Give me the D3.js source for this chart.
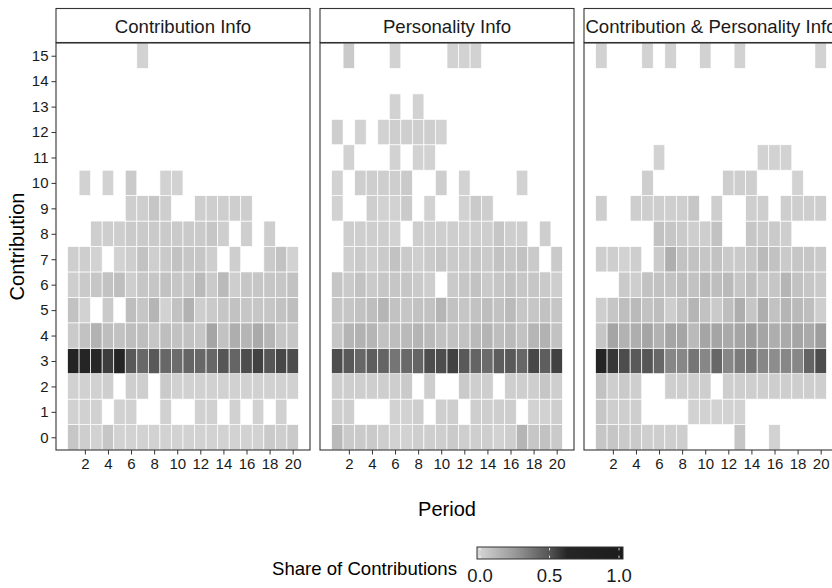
<!DOCTYPE html>
<meta charset="utf-8">
<style>
  body { margin: 0; background: #fff; }
  text { font-family: "Liberation Sans", Arial, Helvetica, sans-serif; }
</style>
<svg width="832" height="588"></svg>
<script src="https://cdn.jsdelivr.net/npm/d3@7"></script>
<script>

  // periods 1..20, contributions 0..15
  var periods = d3.range(1, 21);
  var contributions = d3.range(0, 16);
  var xTicks = [2, 4, 6, 8, 10, 12, 14, 16, 18, 20];
  var legendTicks = [0, 0.5, 1];
  var panelTitles = ["Contribution Info", "Personality Info", "Contribution & Personality Info"];

  // share of contributions, one row per contribution level (0 = no tile)
  var shareContribution = [
    [.075,.042,.025,.075,.025,.025,.025,.025,.025,.025,.025,.025,.025,.025,.025,.025,.025,.058,.042,.058],
    [.03,.03,.03,0,.03,.03,0,0,.03,0,0,.03,.03,0,.03,0,.03,0,.03,0],
    [.03,.03,.03,.04,0,.04,.04,0,.058,.03,.03,.03,.03,.03,.03,.03,.03,.03,.03,.03],
    [.66,.64,.615,.555,.62,.48,.425,.48,.43,.41,.435,.425,.43,.49,.435,.515,.545,.49,.53,.515],
    [.058,.092,.158,.108,.092,.108,.108,.075,.108,.092,.092,.075,.21,.092,.175,.142,.19,.142,.075,.075],
    [.092,.025,0,.058,0,.108,.075,.142,.025,.092,.158,.042,.058,.075,.092,.075,.075,.075,.092,.108],
    [.042,.058,.075,.092,.108,.042,.075,.075,.092,.075,.075,.125,.058,.125,.042,.075,.075,.075,.075,.092],
    [.042,.042,.025,0,.025,.042,.092,.042,.058,.092,.075,.075,.042,0,.042,0,0,.058,.092,.025],
    [0,0,.042,.042,.042,.058,.058,.058,.058,.058,.058,.058,.075,.042,0,.042,0,.042,0,0],
    [0,0,0,0,0,.042,.042,.075,.042,0,0,.042,.042,.042,.042,.042,0,0,0,0],
    [0,.025,0,.025,0,.058,0,0,.025,.025,0,0,0,0,0,0,0,0,0,0],
    [0,0,0,0,0,0,0,0,0,0,0,0,0,0,0,0,0,0,0,0],
    [0,0,0,0,0,0,0,0,0,0,0,0,0,0,0,0,0,0,0,0],
    [0,0,0,0,0,0,0,0,0,0,0,0,0,0,0,0,0,0,0,0],
    [0,0,0,0,0,0,0,0,0,0,0,0,0,0,0,0,0,0,0,0],
    [0,0,0,0,0,0,.025,0,0,0,0,0,0,0,0,0,0,0,0,0]
  ];

  var sharePersonality = [
    [.125,.058,.058,.058,.042,.025,.025,.042,.042,.042,.058,.042,.042,.042,.025,.042,.142,.075,.092,.058],
    [.042,.042,0,0,0,.025,.025,.042,0,.042,.042,0,.042,.042,.042,.042,0,.025,.025,.042],
    [.042,.042,.042,.042,.042,.042,.058,0,.042,0,0,.058,.042,.042,0,.042,.042,.042,.075,.042],
    [.515,.48,.43,.46,.44,.38,.42,.435,.515,.515,.545,.48,.44,.415,.465,.48,.43,.53,.46,.545],
    [.075,.142,.158,.142,.092,.108,.125,.142,.125,.092,.092,.092,.125,.142,.108,.125,.092,.142,.158,.092],
    [.075,.075,.092,.108,.142,.092,.075,.092,.092,.142,.092,.075,.092,.108,.092,.125,.075,.075,.092,.075],
    [.075,.058,.092,.058,.075,.075,.075,.058,.042,0,.058,.075,.092,.058,.075,.092,.075,.075,.058,.042],
    [0,.042,.058,.042,.058,.092,.058,.042,.058,.075,.058,.058,.075,.058,.092,.075,.092,.058,0,.058],
    [0,.042,.042,.042,.042,.025,0,.042,.042,.042,.042,.042,.042,.042,.075,.042,.042,0,.042,0],
    [.025,0,0,.042,.025,.025,.058,0,.025,0,0,.025,.058,.042,0,0,0,0,0,0],
    [.025,0,.042,.042,.042,.042,.058,0,0,.042,0,.025,0,0,0,0,.025,0,0,0],
    [0,.025,0,0,0,.025,0,.025,.025,0,0,0,0,0,0,0,0,0,0,0],
    [.042,0,.025,0,.025,.042,.042,.042,.042,.025,0,0,0,0,0,0,0,0,0,0],
    [0,0,0,0,0,.025,0,.025,0,0,0,0,0,0,0,0,0,0,0,0],
    [0,0,0,0,0,0,0,0,0,0,0,0,0,0,0,0,0,0,0,0],
    [0,.058,0,0,0,.025,0,0,0,0,.025,.025,.025,0,0,0,0,0,0,0]
  ];

  var shareBoth = [
    [.075,.075,.058,.058,.042,.042,.042,.042,0,0,0,0,.075,0,0,.025,0,0,0,0],
    [.075,.042,.042,.042,0,0,0,0,.025,.025,.025,.025,.025,0,0,0,0,0,0,0],
    [.092,.042,.058,.042,0,0,.042,.042,.042,.042,0,.042,.042,.042,.042,.042,.042,.042,.042,.042],
    [.66,.57,.515,.48,.49,.43,.32,.32,.38,.32,.43,.32,.36,.38,.32,.30,.32,.32,.44,.515],
    [.075,.21,.158,.175,.21,.158,.21,.21,.125,.21,.21,.19,.21,.24,.21,.175,.19,.21,.19,.24],
    [.042,.075,.108,.125,.092,.108,.042,.092,.142,.092,.058,.108,.175,.075,.175,.092,.142,.125,.108,.042],
    [0,0,.058,.042,.092,.092,.092,.108,.092,.125,.108,.125,.075,.108,.075,.075,.142,.092,.075,.058],
    [.042,.042,.025,.042,0,.058,.175,.092,.092,.075,.092,.058,.058,.075,.125,.092,.058,.075,.075,.058],
    [0,0,0,0,0,.092,.075,.058,.042,.042,.092,0,0,.075,.058,.058,.042,0,0,0],
    [.042,0,0,.042,.042,.042,.042,.042,.075,0,.042,0,0,.042,.042,0,.042,.042,.042,.042],
    [0,0,0,0,.042,0,0,0,0,0,0,.042,.042,.042,0,0,0,.025,0,0],
    [0,0,0,0,0,.025,0,0,0,0,0,0,0,0,.025,.025,.025,0,0,0],
    [0,0,0,0,0,0,0,0,0,0,0,0,0,0,0,0,0,0,0,0],
    [0,0,0,0,0,0,0,0,0,0,0,0,0,0,0,0,0,0,0,0],
    [0,0,0,0,0,0,0,0,0,0,0,0,0,0,0,0,0,0,0,0],
    [.025,0,0,0,.025,0,.025,0,0,.025,0,0,.025,0,0,0,0,0,0,.025]
  ];

  var panelData = [shareContribution, sharePersonality, shareBoth];

  var svg = d3.select("svg");
  var panelW = 254, panelTop = 43, panelBottom = 450;
  var panelLeft = [56, 320, 584];

  var x = d3.scaleLinear().domain([-0.5, 21.5]).range([0, panelW]);
  var y = d3.scaleLinear().domain([-0.5, 15.5]).range([panelBottom - panelTop, 0]);
  var color = d3.scaleLinear()
      .domain([0, 0.25, 0.5, 0.62, 1])
      .range(["#d8d8d8", "#9c9c9c", "#535353", "#252525", "#1c1c1c"])
      .interpolate(d3.interpolateLab)
      .clamp(true);

  panelData.forEach(function(rows, k) {
    var cells = [];
    rows.forEach(function(row, c) {
      row.forEach(function(v, i) {
        if (v > 0) cells.push({period: periods[i], contribution: contributions[c], share: v});
      });
    });

    var g = svg.append("g").attr("transform", "translate(" + panelLeft[k] + "," + panelTop + ")");

    g.selectAll("rect.tile")
      .data(cells)
      .enter().append("rect")
        .attr("class", "tile")
        .attr("x", function(d) { return x(d.period - 0.5); })
        .attr("y", function(d) { return y(d.contribution + 0.5); })
        .attr("width", x(1) - x(0))
        .attr("height", y(0) - y(1))
        .attr("fill", function(d) { return color(d.share); })
        .attr("stroke", "#fff")
        .attr("stroke-width", 0.7);

    // panel border
    g.append("rect")
      .attr("x", 0).attr("y", 0)
      .attr("width", panelW).attr("height", panelBottom - panelTop)
      .attr("fill", "none").attr("stroke", "#333").attr("stroke-width", 1.1);

    // x axis
    var xa = g.append("g")
      .attr("transform", "translate(0," + (panelBottom - panelTop) + ")")
      .call(d3.axisBottom(x).tickValues(xTicks).tickSize(4.5).tickPadding(4));
    xa.select(".domain").remove();
    xa.selectAll("line").attr("stroke", "#333");
    xa.selectAll("text").attr("fill", "#1a1a1a").style("font-size", "15px");

    if (k === 0) {
      var ya = g.append("g")
        .call(d3.axisLeft(y).tickValues(contributions).tickSize(4.5).tickPadding(3));
      ya.select(".domain").remove();
      ya.selectAll("line").attr("stroke", "#333");
      ya.selectAll("text").attr("fill", "#1a1a1a").style("font-size", "15px");
    }

    // strip
    var strip = svg.append("g").attr("transform", "translate(" + panelLeft[k] + ",8.5)");
    strip.append("rect")
      .attr("width", panelW).attr("height", 34)
      .attr("fill", "#fff").attr("stroke", "#333").attr("stroke-width", 1.1);
    strip.append("text")
      .attr("x", panelW / 2).attr("y", 18)
      .attr("text-anchor", "middle")
      .attr("dy", "0.35em")
      .style("font-size", "18.6px")
      .attr("fill", "#1a1a1a")
      .text(panelTitles[k]);
  });

  // axis titles
  svg.append("text")
    .attr("text-anchor", "middle")
    .attr("dy", "0.35em")
    .attr("transform", "translate(17," + ((panelTop + panelBottom) / 2) + ") rotate(-90)")
    .style("font-size", "20px")
    .text("Contribution");

  svg.append("text")
    .attr("x", 447).attr("y", 509)
    .attr("text-anchor", "middle")
    .attr("dy", "0.35em")
    .style("font-size", "20px")
    .text("Period");

  // legend
  var lx0 = 480, lx1 = 619, ly = 547, lh = 12;
  var lscale = d3.scaleLinear().domain([0, 1]).range([lx0, lx1]);
  var grad = svg.append("defs").append("linearGradient")
    .attr("id", "lg").attr("x1", "0%").attr("x2", "100%");
  d3.range(0, 1.0001, 0.02).forEach(function(t) {
    grad.append("stop").attr("offset", (t * 100) + "%").attr("stop-color", color(t));
  });
  svg.append("rect")
    .attr("x", 477).attr("y", ly).attr("width", 146).attr("height", lh)
    .attr("fill", "url(#lg)").attr("stroke", "#333").attr("stroke-width", 1);

  svg.selectAll("line.lt")
    .data(legendTicks)
    .enter().append("line")
      .attr("x1", function(d) { return lscale(d); })
      .attr("x2", function(d) { return lscale(d); })
      .attr("y1", ly + 1).attr("y2", ly + lh - 1)
      .attr("stroke", "#fff").attr("stroke-width", 0.8)
      .attr("stroke-dasharray", "2.4,5.2,2.4");

  svg.selectAll("text.ll")
    .data(legendTicks)
    .enter().append("text")
      .attr("x", function(d) { return lscale(d); })
      .attr("y", 576)
      .attr("text-anchor", "middle")
      .attr("dy", "0.35em")
      .style("font-size", "18.5px")
      .attr("fill", "#1a1a1a")
      .text(function(d) { return d3.format(".1f")(d); });

  svg.append("text")
    .attr("x", 457).attr("y", 568)
    .attr("text-anchor", "end")
    .attr("dy", "0.35em")
    .style("font-size", "18.6px")
    .text("Share of Contributions");

</script>
